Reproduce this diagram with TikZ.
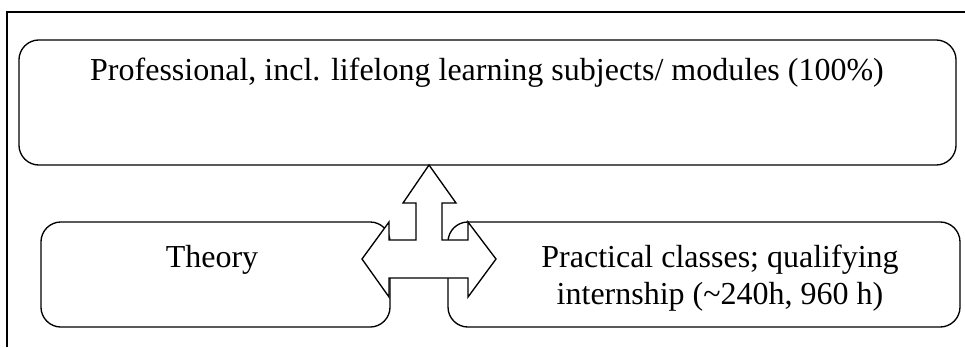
\documentclass[tikz,border=0pt]{standalone}
\usepackage{fontspec}
\setmainfont{Liberation Serif}
\usetikzlibrary{positioning}

\begin{document}
\begin{tikzpicture}[x=0.375pt, y=-0.375pt,
  box/.style={draw, rounded corners=7.5pt, line width=0.5pt, inner sep=0pt},
  txt/.style={font=\fontsize{12}{13.9}\selectfont, align=center, inner sep=0pt}]
\useasboundingbox (0,0) rectangle (965,347);

% Outer frame (only top and left edges show)
\draw[line width=0.8pt] (7,347) -- (7,12) -- (965,12);

% Professional block
\node[box, minimum width=351.4pt, minimum height=46.9pt] (prof) at (487.5,102.5) {};
\node[txt] (proftext) at (487,73) {Professional, incl. lifelong learning subjects/ modules (100\%)};

% Theory block
\node[box, minimum width=130.9pt, minimum height=39.4pt] (theory) at (215.5,274.5) {};
\node[txt] (theorytext) at (212,260) {Theory};

% Practice block
\node[box, minimum width=192pt, minimum height=39.4pt] (practice) at (704,274.5) {};
\node[txt] (practicetext) at (720,278) {Practical classes; qualifying\\internship (\textasciitilde240h, 960 h)};

% Three-way arrow
\draw[line width=0.5pt, fill=white, line join=miter]
  (429,165) -- (456,203) -- (442,203) -- (442,240) -- (468,240) -- (468,222)
  -- (496,259) -- (468,297) -- (468,278) -- (389,278) -- (389,297)
  -- (362,259) -- (389,222) -- (389,240) -- (416,240) -- (416,203)
  -- (403,203) -- cycle;
\end{tikzpicture}
\end{document}
